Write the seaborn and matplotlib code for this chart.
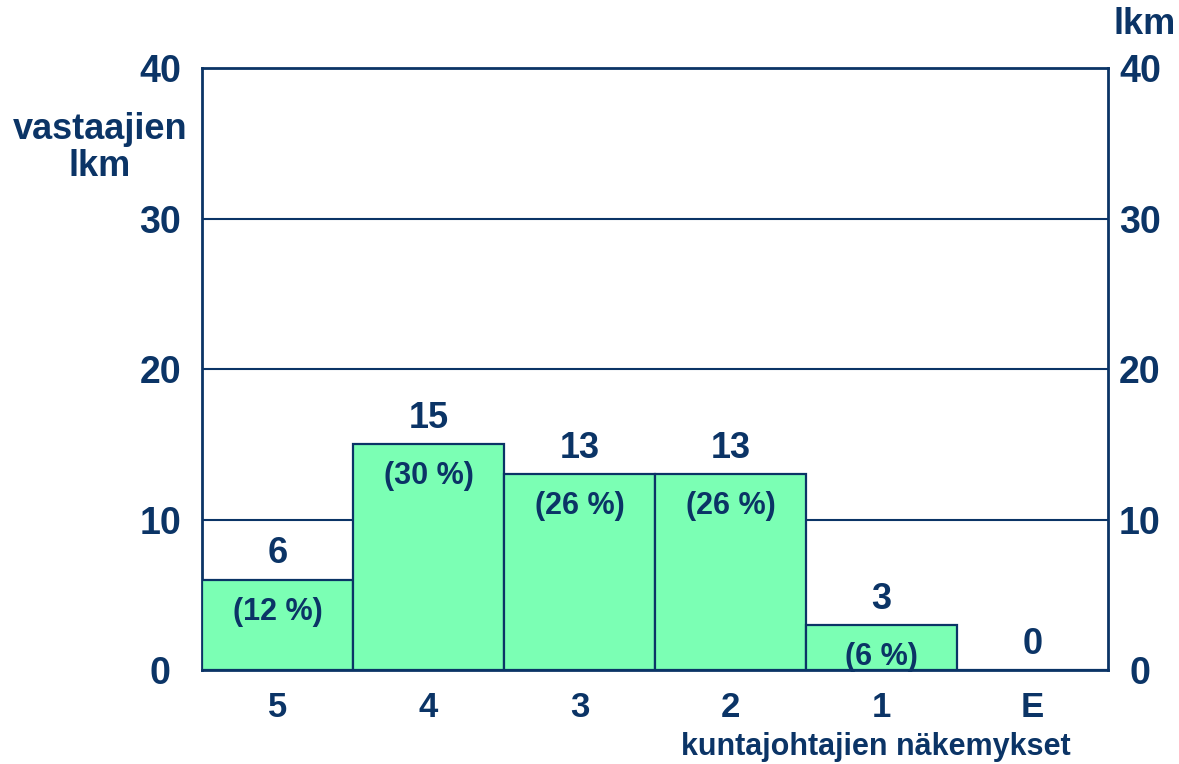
import matplotlib
matplotlib.use("Agg")
import matplotlib.pyplot as plt
import seaborn as sns
import pandas as pd

categories = ["5", "4", "3", "2", "1", "E"]
counts = [6, 15, 13, 13, 3, 0]
percents = ["(12 %)", "(30 %)", "(26 %)", "(26 %)", "(6 %)", ""]
yticks = [0, 10, 20, 30, 40]

navy = "#0B3466"
green = "#7BFFB4"

df = pd.DataFrame({"cat": categories, "n": counts})

sns.set_style("white")
plt.rcParams["font.family"] = ["Liberation Sans", "DejaVu Sans"]
plt.rcParams["font.weight"] = "bold"

fig = plt.figure(figsize=(11.79, 7.64), dpi=100)
ax = fig.add_axes([0.1713, 0.123, 0.7685, 0.788])

sns.barplot(data=df, x="cat", y="n", color=green, width=1.0, saturation=1,
            edgecolor=navy, linewidth=1.6, ax=ax, zorder=3)
ax.set_xlim(-0.5, 5.5)
ax.set_ylim(0, 40)
ax.set_yticks(yticks)
for y in yticks[1:-1]:
    ax.axhline(y, color=navy, lw=1.5, zorder=1)

for s in ax.spines.values():
    s.set_color(navy)
    s.set_linewidth(2)

ax.tick_params(axis="y", length=0, pad=30, labelsize=27, labelcolor=navy)
for t in ax.get_yticklabels():
    t.set_horizontalalignment("center")
ax.tick_params(axis="x", length=0, pad=15, labelsize=25, labelcolor=navy)
ax.set_ylabel("")
ax.set_xlabel("")

ax2 = ax.twinx()
ax2.set_ylim(0, 40)
ax2.set_yticks(yticks)
ax2.tick_params(axis="y", length=0, pad=23, labelsize=27, labelcolor=navy)
for t in ax2.get_yticklabels():
    t.set_horizontalalignment("center")
for s in ax2.spines.values():
    s.set_visible(False)

for i, (c, p) in enumerate(zip(counts, percents)):
    ax.annotate(str(c), (i, c), xytext=(0, 6), textcoords="offset points",
                ha="center", va="bottom", fontsize=26, color=navy, fontweight="bold")
    if p:
        ax.annotate(p, (i, c), xytext=(0, -23), textcoords="offset points",
                    ha="center", va="center", fontsize=22, color=navy, fontweight="bold")

fig.text(876 / 1179, 1 - 747 / 764, "kuntajohtajien näkemykset", ha="center", va="center",
         fontsize=22, color=navy, fontweight="bold")
fig.text(100 / 1179, 1 - 148 / 764, "vastaajien\nlkm", ha="center", va="center",
         fontsize=26, color=navy, fontweight="bold", linespacing=1.1)
fig.text(1145 / 1179, 1 - 24 / 764, "lkm", ha="center", va="center",
         fontsize=26, color=navy, fontweight="bold")

fig.savefig("out.png", dpi=100)
